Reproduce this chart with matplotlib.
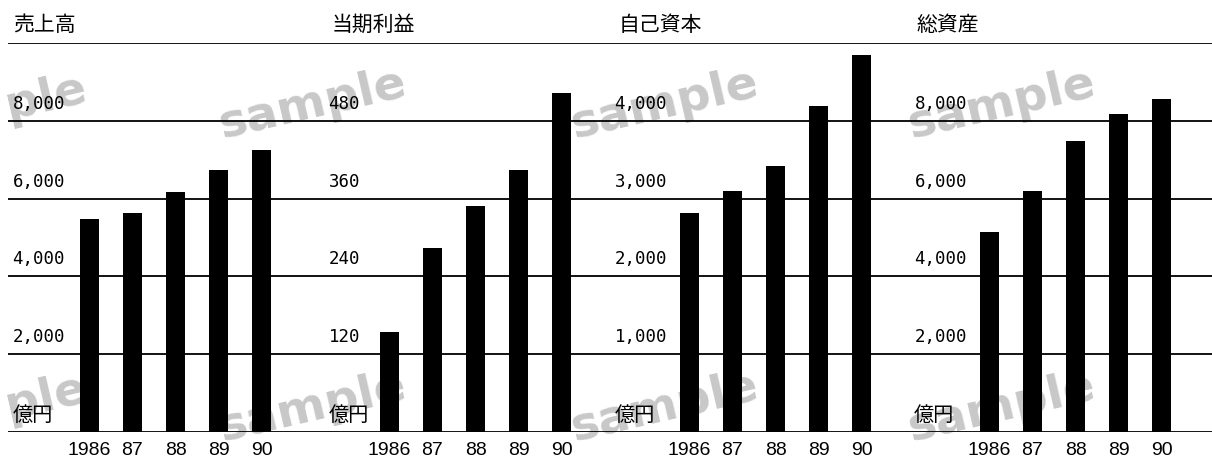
import matplotlib
matplotlib.use("Agg")
import matplotlib.pyplot as plt

# data (億円)
years = ["1986", "87", "88", "89", "90"]
titles = ["売上高", "当期利益", "自己資本", "総資産"]
sales = [5470, 5630, 6180, 6730, 7240]
profit = [154, 284, 348, 404, 523]
equity = [2820, 3100, 3420, 4190, 4840]
assets = [5130, 6200, 7490, 8180, 8550]
steps = [2000, 120, 1000, 2000]
unit = "億円"

series = [sales, profit, equity, assets]

JP = ["Noto Sans CJK JP", "DejaVu Sans"]
NUM = ["DejaVu Sans Mono"]
XNUM = ["Liberation Sans", "DejaVu Sans"]

W, H = 1212, 461
fig = plt.figure(figsize=(W / 100, H / 100), dpi=100)

# per-panel text offsets in pixels (from axes left edge)
title_dx = [5, 24, 11, 8]
label_right = [57, 52, 59, 59]
unit_dx = [5, 21, 7, 6]

base_y = 432
top_y = 43
for i, (vals, title, step) in enumerate(zip(series, titles, steps)):
    left = 8 + 300 * i
    width = 300 if i < 3 else W - left
    ax = fig.add_axes([left / W, (H - base_y) / H, width / W, (base_y - top_y) / H])
    ax.patch.set_visible(False)
    for s in ax.spines.values():
        s.set_visible(False)
    ax.set_xticks([])
    ax.set_yticks([])

    # bar 0 centre at 81.5 px from axes left, 43 px between bars
    x0 = -81.5 / 43
    ax.set_xlim(x0, x0 + width / 43)
    ax.set_ylim(0, 5 * step)

    for k in range(6):
        ax.axhline(k * step, color="black", lw=1.3, zorder=1)

    ax.bar(range(len(vals)), vals, width=0.43, color="black", zorder=3)

    # y labels, sitting just above each grid line
    for k in range(1, 5):
        ax.annotate(f"{k * step:,}", xy=(0, k * step), xycoords=ax.get_yaxis_transform(),
                    xytext=(label_right[i], 17), textcoords="offset pixels",
                    ha="right", va="center", fontsize=12.5, family=NUM)
    ax.annotate(unit, xy=(0, 0), xycoords=ax.get_yaxis_transform(),
                xytext=(unit_dx[i], 17), textcoords="offset pixels",
                ha="left", va="center", fontsize=14.5, family=JP)

    # year labels under bars
    for j, yr in enumerate(years):
        ax.annotate(yr, xy=(j, 0), xycoords=ax.get_xaxis_transform(),
                    xytext=(0, -18), textcoords="offset pixels",
                    ha="center", va="center", fontsize=14, family=XNUM)

    ax.annotate(title, xy=(0, 1), xycoords="axes fraction",
                xytext=(title_dx[i], 18), textcoords="offset pixels",
                ha="left", va="center", fontsize=15, family=JP)

# faint watermark behind everything
for cx in [313, 665, 1002]:
    for cy in [105, 408]:
        fig.text(cx / W, 1 - cy / H, "sample", ha="center", va="center",
                 rotation=13, fontsize=34, fontweight="bold", color="#c8c8c8",
                 family=["DejaVu Sans"], zorder=-5)
# partial watermark at the left edge
for cy in [98, 398]:
    fig.text(46 / W, 1 - cy / H, "ple", ha="center", va="center",
             rotation=13, fontsize=34, fontweight="bold", color="#c8c8c8",
             family=["DejaVu Sans"], zorder=-5)

fig.savefig("out.png", dpi=100)
